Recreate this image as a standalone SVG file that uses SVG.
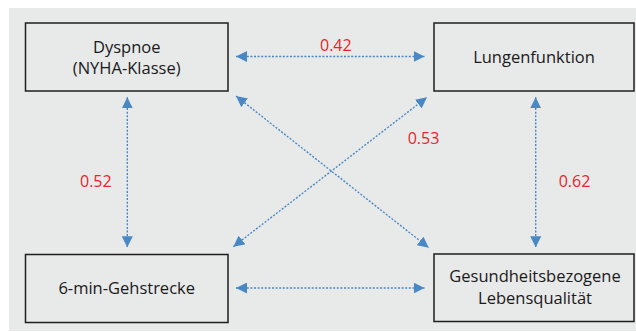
<svg xmlns="http://www.w3.org/2000/svg" width="636" height="332" viewBox="0 0 636 332">
<style>
.box{fill:#e8e9e9;stroke:#1e1e1e;stroke-width:1.5}
.lbl{font-family:"Open Sans","Noto Sans",sans-serif;font-size:16.5px;fill:#1a1a1a;text-anchor:middle}
.num{font-family:"Open Sans","Noto Sans",sans-serif;font-size:16px;fill:#e4262c}
.con{stroke:#4a88c4;stroke-width:1.4;stroke-dasharray:2 1.6;fill:none;marker-start:url(#ah);marker-end:url(#ah)}
</style>
<defs>
<marker id="ah" markerUnits="userSpaceOnUse" markerWidth="11" markerHeight="11" refX="11" refY="5.5" orient="auto-start-reverse" viewBox="0 0 11 11">
<path d="M0,0 L11,5.5 L0,11 z" fill="#4a88c4"/>
</marker>
</defs>
<rect x="9" y="8" width="627" height="323" fill="#e8e9e9"/>
<g id="connectors">
<line class="con" x1="236" y1="56.5" x2="424.5" y2="56.5"/>
<line class="con" x1="236" y1="288" x2="424.5" y2="288"/>
<line class="con" x1="127.3" y1="97.3" x2="127.3" y2="247.3"/>
<line class="con" x1="535.7" y1="97.3" x2="535.7" y2="247.3"/>
<line class="con" x1="236" y1="96" x2="428.7" y2="247.7"/>
<line class="con" x1="233.3" y1="246.7" x2="427" y2="97.3"/>
<text class="num" x="320" y="50.7">0.42</text>
<text class="num" x="407.7" y="144">0.53</text>
<text class="num" x="80" y="187.3">0.52</text>
<text class="num" x="558.7" y="187.3">0.62</text>
</g>
<g id="dyspnoe">
<rect class="box" x="25.5" y="23" width="202.5" height="68"/>
<text class="lbl" x="126.7" y="52.5">Dyspnoe</text>
<text class="lbl" x="126.7" y="74">(NYHA-Klasse)</text>
</g>
<g id="lungenfunktion">
<rect class="box" x="434" y="23" width="200" height="68"/>
<text class="lbl" x="534" y="63.3">Lungenfunktion</text>
</g>
<g id="gehstrecke">
<rect class="box" x="25.5" y="254.5" width="202.5" height="68"/>
<text class="lbl" x="126.7" y="293.7">6-min-Gehstrecke</text>
</g>
<g id="lebensqualitaet">
<rect class="box" x="434" y="254" width="200" height="67.5"/>
<text class="lbl" x="535" y="282">Gesundheitsbezogene</text>
<text class="lbl" x="535" y="303.7">Lebensqualität</text>
</g>
</svg>
